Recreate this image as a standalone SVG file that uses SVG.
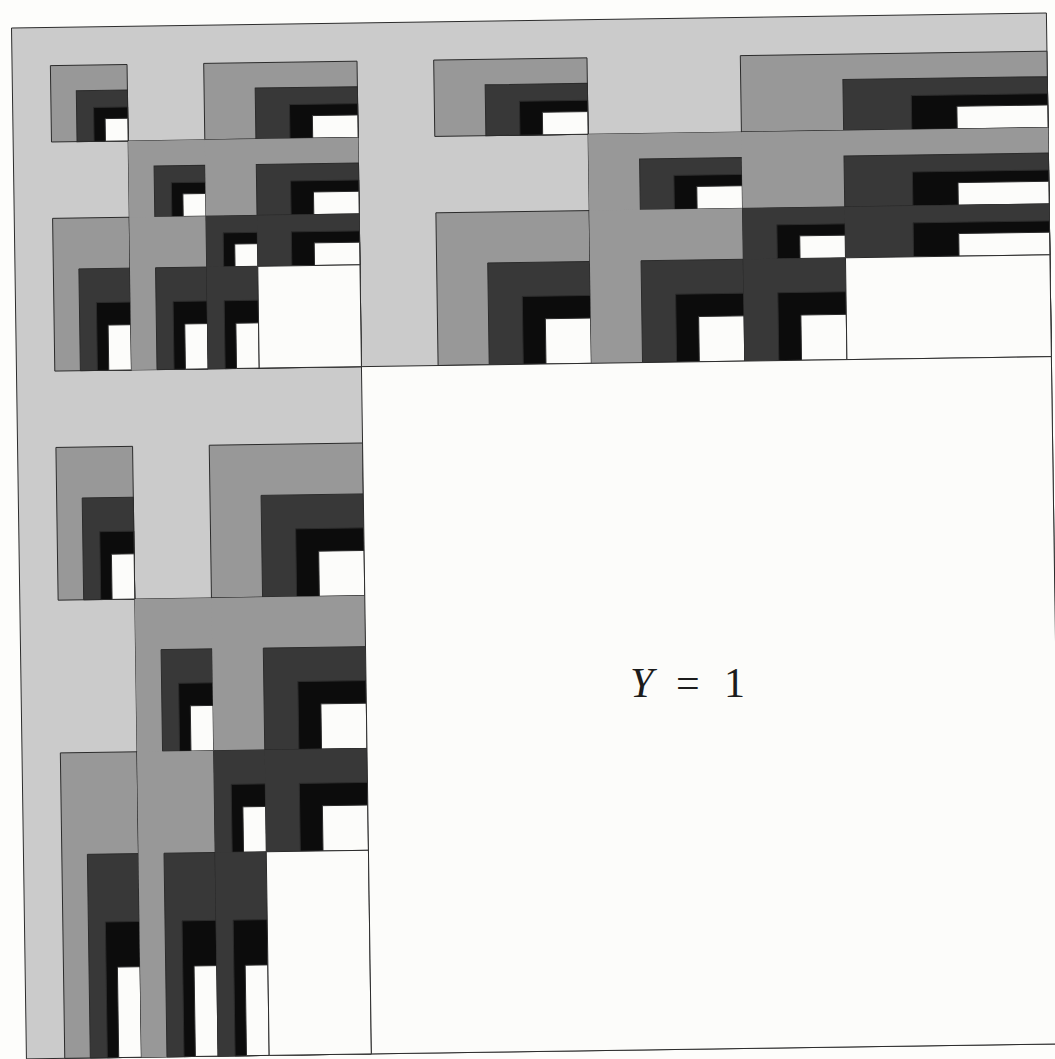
<svg xmlns="http://www.w3.org/2000/svg" width="1055" height="1059" viewBox="0 0 1055 1059">
<style>
  rect { vector-effect: non-scaling-stroke; }
  .b { stroke: #2b2b2b; stroke-width: 1; }
  .lt { fill: #cbcbcb; }
  .md { fill: #989898; }
  .dk { fill: #383838; }
  .bk { fill: #0c0c0c; }
  .wh { fill: #fcfcfa; }
</style>
<defs>
  <g id="chainBlack">
    <rect class="bk b" x="0" y="0" width="3" height="3" vector-effect="non-scaling-stroke"/>
    <rect class="wh b" x="1" y="1" width="2" height="2" vector-effect="non-scaling-stroke"/>
  </g>
  <g id="chainDark">
    <rect class="dk b" x="0" y="0" width="3" height="3" vector-effect="non-scaling-stroke"/>
    <use href="#chainBlack" transform="translate(1,1) scale(0.666667)"/>
  </g>
  <g id="chainDarkI">
    <rect class="dk" x="0" y="0" width="3" height="3"/>
    <use href="#chainBlack" transform="translate(1,1) scale(0.666667)"/>
  </g>
  <g id="chainMed">
    <rect class="md b" x="0" y="0" width="3" height="3" vector-effect="non-scaling-stroke"/>
    <use href="#chainDark" transform="translate(1,1) scale(0.666667)"/>
  </g>
  <g id="chainMedI">
    <rect class="md" x="0" y="0" width="3" height="3"/>
    <use href="#chainDark" transform="translate(1,1) scale(0.666667)"/>
  </g>
  <g id="D1">
    <rect class="dk b" x="0" y="0" width="3" height="3" vector-effect="non-scaling-stroke"/>
    <use href="#chainDarkI" transform="scale(0.333333)"/>
    <use href="#chainDarkI" transform="translate(1,0) scale(0.666667,0.333333)"/>
    <use href="#chainDarkI" transform="translate(0,1) scale(0.333333,0.666667)"/>
    <rect class="wh b" x="1" y="1" width="2" height="2" vector-effect="non-scaling-stroke"/>
  </g>
  <g id="M1">
    <rect class="md b" x="0" y="0" width="3" height="3" vector-effect="non-scaling-stroke"/>
    <use href="#chainMedI" transform="scale(0.333333)"/>
    <use href="#chainMedI" transform="translate(1,0) scale(0.666667,0.333333)"/>
    <use href="#chainMedI" transform="translate(0,1) scale(0.333333,0.666667)"/>
    <use href="#D1" transform="translate(1,1) scale(0.666667)"/>
  </g>
  <g id="L2">
    <use href="#chainMed" transform="translate(1,1) scale(0.666667)"/>
  </g>
  <g id="L1">
    <use href="#L2" transform="scale(0.333333)"/>
    <use href="#L2" transform="translate(1,0) scale(0.666667,0.333333)"/>
    <use href="#L2" transform="translate(0,1) scale(0.333333,0.666667)"/>
    <use href="#M1" transform="translate(1,1) scale(0.666667)"/>
  </g>
</defs>
<rect x="0" y="0" width="1055" height="1059" fill="#fdfdfb"/>
<g id="square" transform="translate(11.5,28) rotate(-0.83) scale(345,343.67)">
  <rect id="outer" class="lt b" x="0" y="0" width="3" height="3" vector-effect="non-scaling-stroke"/>
  <use id="quadrant-top-left" href="#L1" transform="scale(0.333333)"/>
  <use id="quadrant-top-right" href="#L1" transform="translate(1,0) scale(0.666667,0.333333)"/>
  <use id="quadrant-bottom-left" href="#L1" transform="translate(0,1) scale(0.333333,0.666667)"/>
  <rect id="y-equals-1" class="wh b" x="1" y="1" width="2" height="2" vector-effect="non-scaling-stroke"/>
</g>
<text id="label" y="697" font-family="'Liberation Serif', 'Times New Roman', serif" font-size="42" fill="#1c1c1c"><tspan x="630" font-style="italic">Y</tspan><tspan x="676">=</tspan><tspan x="724">1</tspan></text>
</svg>
